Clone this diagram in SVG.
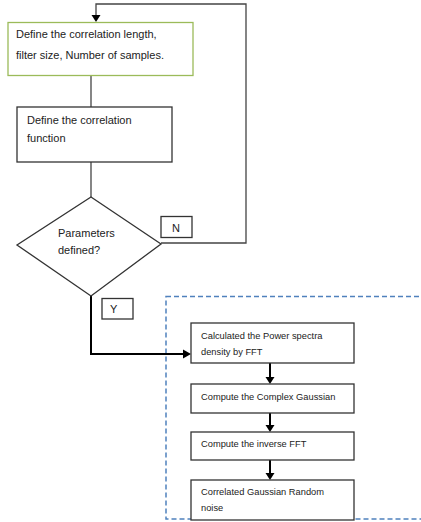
<svg xmlns="http://www.w3.org/2000/svg" width="421" height="522" viewBox="0 0 421 522">
<defs>
<style>
.t{font-family:"Liberation Sans",Arial,sans-serif;fill:#222}
.big{font-size:11px}
.small{font-size:9.3px}
.box{fill:#fff;stroke:#333;stroke-width:1.3}
.ln{fill:none;stroke:#444;stroke-width:1.3}
.ar{fill:none;stroke:#000;stroke-width:2}
</style>
</defs>
<rect width="421" height="522" fill="#fff"/>
<g id="group">
<rect x="166" y="296.5" width="262" height="222.5" fill="none" stroke="#4f81bd" stroke-width="1.5" stroke-dasharray="5,3"/>
</g>
<g id="connectors">
<polyline class="ln" points="161,243 246,243 246,4 96,4 96,16"/>
<path d="M91.5,15 L96,22 L100.5,15 Z" fill="#000"/>
<line class="ln" x1="91" y1="76" x2="91" y2="107"/>
<line class="ln" x1="91" y1="162" x2="91" y2="197"/>
<polyline class="ar" points="91,296 91,354 184,354"/>
<path d="M183,349.5 L191,354 L183,358.5 Z" fill="#000"/>
<line class="ar" x1="270" y1="363" x2="270" y2="378"/>
<path d="M265.5,377 L270,384 L274.5,377 Z" fill="#000"/>
<line class="ar" x1="270" y1="413" x2="270" y2="426"/>
<path d="M265.5,425 L270,432 L274.5,425 Z" fill="#000"/>
<line class="ar" x1="270" y1="460" x2="270" y2="474"/>
<path d="M265.5,473 L270,480 L274.5,473 Z" fill="#000"/>
</g>
<g id="n1">
<rect x="8" y="22.5" width="185" height="53" fill="#fff" stroke="#9bbb59" stroke-width="1.3"/>
<text class="t big" x="16" y="38">Define the correlation length,</text>
<text class="t big" x="16" y="59">filter size, Number of samples.</text>
</g>
<g id="n2">
<rect class="box" x="17" y="107" width="155" height="55"/>
<text class="t big" x="27" y="124">Define the correlation</text>
<text class="t big" x="27" y="142">function</text>
</g>
<g id="n3">
<polygon class="box" points="91,197 161,244 91,296 17,245"/>
<text class="t big" x="58" y="237">Parameters</text>
<text class="t big" x="58" y="254">defined?</text>
</g>
<g id="lblN">
<rect class="box" x="161" y="216.5" width="31" height="21"/>
<text class="t big" x="172" y="232" fill="#1f3a7a">N</text>
</g>
<g id="lblY">
<rect class="box" x="102" y="298.5" width="31" height="20.5"/>
<text class="t big" x="110" y="313">Y</text>
</g>
<g id="n4">
<rect class="box" x="191" y="323" width="163" height="40"/>
<text class="t small" x="201" y="339">Calculated the Power spectra</text>
<text class="t small" x="201" y="355">density by FFT</text>
</g>
<g id="n5">
<rect class="box" x="191" y="384" width="163" height="29"/>
<text class="t small" x="201" y="400">Compute the Complex Gaussian</text>
</g>
<g id="n6">
<rect class="box" x="191" y="432" width="163" height="28"/>
<text class="t small" x="201" y="447">Compute the inverse FFT</text>
</g>
<g id="n7">
<rect class="box" x="191" y="480" width="163" height="40"/>
<text class="t small" x="201" y="495">Correlated Gaussian Random</text>
<text class="t small" x="201" y="511">noise</text>
</g>
</svg>
